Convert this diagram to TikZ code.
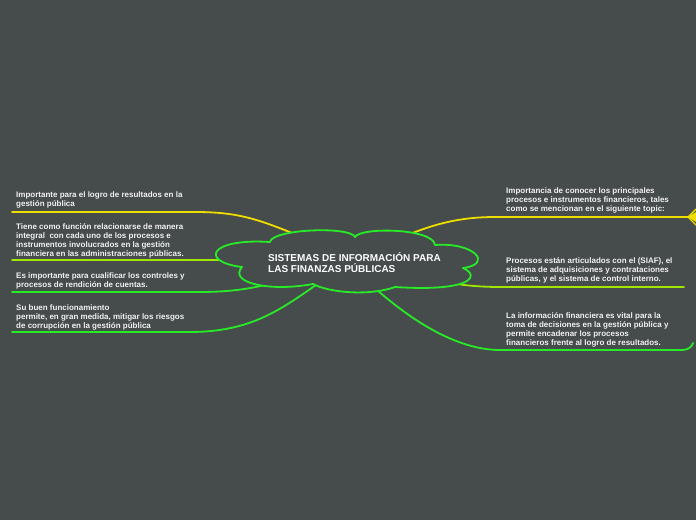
\documentclass[tikz,border=0pt]{standalone}
\usepackage{fontspec}
\setmainfont{Liberation Sans}
\definecolor{bgc}{RGB}{70,75,75}
\definecolor{yel}{RGB}{238,222,0}
\definecolor{lim}{RGB}{160,230,0}
\definecolor{grn}{RGB}{40,235,40}
\definecolor{txt}{RGB}{242,242,242}
\tikzset{
  leaf/.style={anchor=base west, align=left, font=\fontsize{8}{9.3}\selectfont\bfseries, text=txt, inner sep=0pt},
  titletext/.style={anchor=base west, align=left, font=\fontsize{10}{11}\selectfont\bfseries, text=white, inner sep=0pt},
  branch/.style={line width=1.8pt, line cap=round},
  cloudline/.style={line width=1.8pt, draw=grn, line join=round},
}
\begin{document}
\begin{tikzpicture}[x=1pt,y=-1pt]
\fill[bgc] (0,0) rectangle (696,520);
\useasboundingbox (0,0) rectangle (696,520);

% connector end coordinates
\coordinate (l1s) at (292,233); \coordinate (l1m) at (195,212); \coordinate (l1e) at (12,212);
\coordinate (l2s) at (219,260); \coordinate (l2e) at (12,260);
\coordinate (l3s) at (269,284); \coordinate (l3m) at (198,292); \coordinate (l3e) at (12,292);
\coordinate (l4s) at (316,285); \coordinate (l4m) at (190,332); \coordinate (l4e) at (12,332);
\coordinate (r1s) at (410,234); \coordinate (r1m) at (495,217); \coordinate (r1e) at (688,217);
\coordinate (r2s) at (457,284); \coordinate (r2m) at (500,287); \coordinate (r2e) at (684,287);
\coordinate (r3s) at (377,290); \coordinate (r3m) at (500,350); \coordinate (r3n) at (682,350); \coordinate (r3e) at (693,343);

% connectors
\draw[branch,yel] (l1s) .. controls (255,218) and (235,212) .. (l1m) -- (l1e);
\draw[branch,lim] (l2s) -- (l2e);
\draw[branch,grn] (l3s) .. controls (245,290) and (225,292) .. (l3m) -- (l3e);
\draw[branch,grn] (l4s) .. controls (280,310) and (250,332) .. (l4m) -- (l4e);
\draw[branch,yel] (r1s) .. controls (440,222) and (465,217) .. (r1m) -- (r1e);
\draw[branch,lim] (r2s) .. controls (470,286) and (485,287) .. (r2m) -- (r2e);
\draw[branch,grn] (r3s) .. controls (400,310) and (450,350) .. (r3m) -- (r3n) .. controls (688,350) and (692,347) .. (r3e);

% collapsed indicator
\coordinate (k1) at (696,209); \coordinate (k2) at (696,225);
\draw[yel,line width=1.4pt,line join=round] (k1) -- (r1e) -- (k2);
\fill[yel] (r1e) -- (696,212) -- (696,222) -- cycle;

% central cloud
\coordinate (A) at (270,242);
\coordinate (B) at (355,237);
\coordinate (C) at (435,245);
\coordinate (D) at (463,268);
\coordinate (E) at (395,287);
\coordinate (F) at (313,284);
\coordinate (G) at (242,267);
\filldraw[fill=bgc,cloudline] (A) .. controls (272,229) and (350,226) .. (B)
  .. controls (360,227) and (433,228) .. (C)
  .. controls (474,242) and (494,264) .. (D)
  .. controls (481,276) and (471,292) .. (E)
  .. controls (370,296) and (330,293) .. (F)
  .. controls (270,292) and (228,283) .. (G)
  .. controls (200,262) and (208,238) .. (A) -- cycle;
\node[titletext] (title) at (268,272.4) {SISTEMAS DE INFORMACIÓN PARA\\LAS FINANZAS PÚBLICAS};

% leaves (anchored at the baseline of their last line)
\node[leaf] (t1) at (16,206.3) {Importante para el logro de resultados en la\\gestión pública};
\node[leaf] (t2) at (16,256.9) {Tiene como función relacionarse de manera\\integral\ \ con cada uno de los procesos e\\instrumentos involucrados en la gestión\\financiera en las administraciones públicas.};
\node[leaf] (t3) at (16,287.3) {Es importante para cualificar los controles y\\procesos de rendición de cuentas.};
\node[leaf] (t4) at (16,328.6) {Su buen funcionamiento\\permite, en gran medida, mitigar los riesgos\\de corrupción en la gestión pública};
\node[leaf] (t5) at (506,211.6) {Importancia de conocer los principales\\procesos e instrumentos financieros, tales\\como se mencionan en el siguiente topic:};
\node[leaf] (t6) at (506,281.6) {Procesos están articulados con el (SIAF), el\\sistema de adquisiciones y contrataciones\\públicas, y el sistema de control interno.};
\node[leaf] (t7) at (506,345.9) {La información financiera es vital para la\\toma de decisiones en la gestión pública y\\permite encadenar los procesos\\financieros frente al logro de resultados.};
\end{tikzpicture}
\end{document}
